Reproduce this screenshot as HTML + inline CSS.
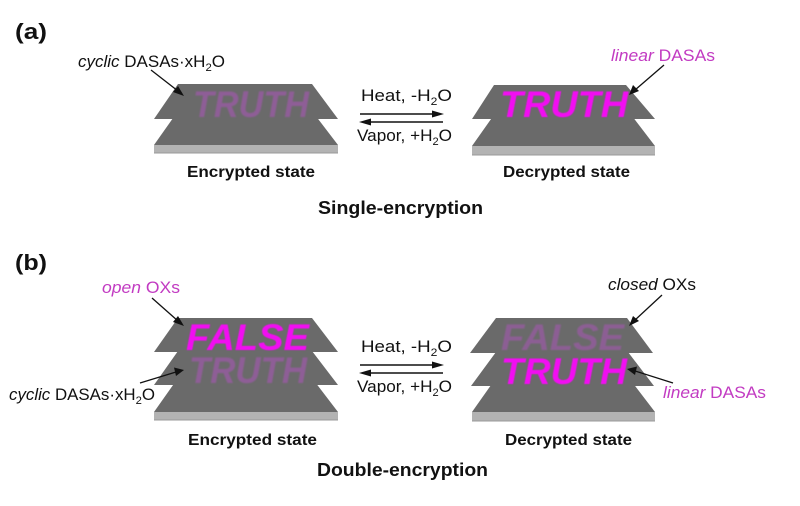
<!DOCTYPE html>
<html>
<head>
<meta charset="utf-8">
<style>
html,body{margin:0;padding:0;background:#fff;}
svg{display:block;}
text{font-family:"Liberation Sans",Arial,sans-serif;}
</style>
</head>
<body>
<svg width="800" height="506" viewBox="0 0 800 506" xmlns="http://www.w3.org/2000/svg">
<defs>
  <filter id="blur" x="-10%" y="-20%" width="120%" height="140%"><feGaussianBlur stdDeviation="0.9"/></filter>
  <filter id="sblur" x="-10%" y="-20%" width="120%" height="140%"><feGaussianBlur stdDeviation="0.4"/></filter>
</defs>
<rect width="800" height="506" fill="#fff"/>

<!-- ================= (a) ================= -->
<text x="15" y="39" font-size="22" font-weight="bold" fill="#111" textLength="32" lengthAdjust="spacingAndGlyphs">(a)</text>

<!-- encrypted (a) stack -->
<g>
  <rect x="154" y="145" width="184" height="8" fill="#b3b3b3"/>
  <line x1="154" y1="153" x2="338" y2="153" stroke="#999" stroke-width="1"/>
  <polygon points="178,111 312,111 338,145 154,145" fill="#6a6a6a"/>
  <polygon points="178,84 312,84 338,119 154,119" fill="#6a6a6a"/>
  <text x="193" y="117" font-size="37" font-weight="bold" font-style="italic" fill="#9b5aa6" opacity="0.75" textLength="116" lengthAdjust="spacingAndGlyphs" filter="url(#blur)">TRUTH</text>
</g>

<!-- decrypted (a) stack -->
<g>
  <rect x="472" y="146" width="183" height="9" fill="#b3b3b3"/>
  <line x1="472" y1="155" x2="655" y2="155" stroke="#999" stroke-width="1"/>
  <polygon points="496,112 629,112 655,146 472,146" fill="#6a6a6a"/>
  <polygon points="494,85 626,85 655,119 472,119" fill="#6a6a6a"/>
  <text x="500" y="117" font-size="37" font-weight="bold" font-style="italic" fill="#f20cf2" textLength="128" lengthAdjust="spacingAndGlyphs" filter="url(#sblur)">TRUTH</text>
</g>

<!-- labels (a) -->
<text x="78" y="67" font-size="16.5" fill="#111" textLength="147" lengthAdjust="spacingAndGlyphs"><tspan font-style="italic">cyclic</tspan> DASAs·xH<tspan dy="4" font-size="11">2</tspan><tspan dy="-4">O</tspan></text>
<line x1="151" y1="70" x2="178" y2="91" stroke="#111" stroke-width="1.3"/>
<polygon points="184,96 173,92 178,86" fill="#111"/>

<text x="611" y="61" font-size="16.5" fill="#c23bc2" textLength="104" lengthAdjust="spacingAndGlyphs"><tspan font-style="italic">linear</tspan> DASAs</text>
<line x1="664" y1="65" x2="635" y2="90" stroke="#111" stroke-width="1.3"/>
<polygon points="629,95 633,85 639,91" fill="#111"/>

<!-- reaction arrows (a) -->
<text x="361" y="101" font-size="17" fill="#111" textLength="91" lengthAdjust="spacingAndGlyphs">Heat, -H<tspan dy="4" font-size="11">2</tspan><tspan dy="-4">O</tspan></text>
<line x1="360" y1="114" x2="434" y2="114" stroke="#111" stroke-width="1.5"/>
<polygon points="444,114 432,110.5 432,117.5" fill="#111"/>
<line x1="369" y1="122" x2="443" y2="122" stroke="#111" stroke-width="1.5"/>
<polygon points="359,122 371,118.5 371,125.5" fill="#111"/>
<text x="357" y="141" font-size="17" fill="#111" textLength="95" lengthAdjust="spacingAndGlyphs">Vapor, +H<tspan dy="4" font-size="11">2</tspan><tspan dy="-4">O</tspan></text>

<text x="187" y="177" font-size="16" font-weight="bold" fill="#111" textLength="128" lengthAdjust="spacingAndGlyphs">Encrypted state</text>
<text x="503" y="177" font-size="16" font-weight="bold" fill="#111" textLength="127" lengthAdjust="spacingAndGlyphs">Decrypted state</text>
<text x="318" y="214" font-size="18" font-weight="bold" fill="#111" textLength="165" lengthAdjust="spacingAndGlyphs">Single-encryption</text>

<!-- ================= (b) ================= -->
<text x="15" y="270" font-size="22" font-weight="bold" fill="#111" textLength="32" lengthAdjust="spacingAndGlyphs">(b)</text>

<!-- encrypted (b) stack -->
<g>
  <rect x="154" y="412" width="184" height="8" fill="#b3b3b3"/>
  <line x1="154" y1="420" x2="338" y2="420" stroke="#999" stroke-width="1"/>
  <polygon points="178,378 312,378 338,412 154,412" fill="#6a6a6a"/>
  <polygon points="178,351 312,351 338,385 154,385" fill="#6a6a6a"/>
  <text x="189" y="383" font-size="37" font-weight="bold" font-style="italic" fill="#9b5aa6" opacity="0.75" textLength="118" lengthAdjust="spacingAndGlyphs" filter="url(#blur)">TRUTH</text>
  <polygon points="178,318 312,318 338,352 154,352" fill="#6a6a6a"/>
  <text x="186" y="350" font-size="37" font-weight="bold" font-style="italic" fill="#f20cf2" textLength="123" lengthAdjust="spacingAndGlyphs" filter="url(#sblur)">FALSE</text>
</g>

<!-- decrypted (b) stack -->
<g>
  <rect x="472" y="412" width="183" height="9" fill="#b3b3b3"/>
  <line x1="472" y1="421" x2="655" y2="421" stroke="#999" stroke-width="1"/>
  <polygon points="496,378 629,378 655,412 472,412" fill="#6a6a6a"/>
  <polygon points="496,352 628,352 654,386 471,386" fill="#6a6a6a"/>
  <text x="501" y="384" font-size="37" font-weight="bold" font-style="italic" fill="#f20cf2" textLength="126" lengthAdjust="spacingAndGlyphs" filter="url(#sblur)">TRUTH</text>
  <polygon points="496,318 627,318 653,353 470,353" fill="#6a6a6a"/>
  <text x="501" y="350" font-size="37" font-weight="bold" font-style="italic" fill="#9b5aa6" opacity="0.7" textLength="123" lengthAdjust="spacingAndGlyphs" filter="url(#blur)">FALSE</text>
</g>

<!-- labels (b) -->
<text x="102" y="293" font-size="16.5" fill="#c23bc2" textLength="78" lengthAdjust="spacingAndGlyphs"><tspan font-style="italic">open</tspan> OXs</text>
<line x1="152" y1="298" x2="178" y2="321" stroke="#111" stroke-width="1.3"/>
<polygon points="184,326 173,322 178,316" fill="#111"/>

<text x="9" y="400" font-size="16.5" fill="#111" textLength="146" lengthAdjust="spacingAndGlyphs"><tspan font-style="italic">cyclic</tspan> DASAs·xH<tspan dy="4" font-size="11">2</tspan><tspan dy="-4">O</tspan></text>
<line x1="140" y1="383" x2="176" y2="372" stroke="#111" stroke-width="1.3"/>
<polygon points="184,370 174,367.5 176,376" fill="#111"/>

<text x="608" y="290" font-size="16.5" fill="#111" textLength="88" lengthAdjust="spacingAndGlyphs"><tspan font-style="italic">closed</tspan> OXs</text>
<line x1="662" y1="295" x2="635" y2="320" stroke="#111" stroke-width="1.3"/>
<polygon points="629,326 633,316 639,321" fill="#111"/>

<text x="663" y="398" font-size="16.5" fill="#c23bc2" textLength="103" lengthAdjust="spacingAndGlyphs"><tspan font-style="italic">linear</tspan> DASAs</text>
<line x1="673" y1="383" x2="635" y2="371" stroke="#111" stroke-width="1.3"/>
<polygon points="627,369 637,366.5 635,375" fill="#111"/>

<!-- reaction arrows (b) -->
<text x="361" y="352" font-size="17" fill="#111" textLength="91" lengthAdjust="spacingAndGlyphs">Heat, -H<tspan dy="4" font-size="11">2</tspan><tspan dy="-4">O</tspan></text>
<line x1="360" y1="365" x2="434" y2="365" stroke="#111" stroke-width="1.5"/>
<polygon points="444,365 432,361.5 432,368.5" fill="#111"/>
<line x1="369" y1="373" x2="443" y2="373" stroke="#111" stroke-width="1.5"/>
<polygon points="359,373 371,369.5 371,376.5" fill="#111"/>
<text x="357" y="392" font-size="17" fill="#111" textLength="95" lengthAdjust="spacingAndGlyphs">Vapor, +H<tspan dy="4" font-size="11">2</tspan><tspan dy="-4">O</tspan></text>

<text x="188" y="445" font-size="16" font-weight="bold" fill="#111" textLength="129" lengthAdjust="spacingAndGlyphs">Encrypted state</text>
<text x="505" y="445" font-size="16" font-weight="bold" fill="#111" textLength="127" lengthAdjust="spacingAndGlyphs">Decrypted state</text>
<text x="317" y="476" font-size="18" font-weight="bold" fill="#111" textLength="171" lengthAdjust="spacingAndGlyphs">Double-encryption</text>
</svg>
</body>
</html>
